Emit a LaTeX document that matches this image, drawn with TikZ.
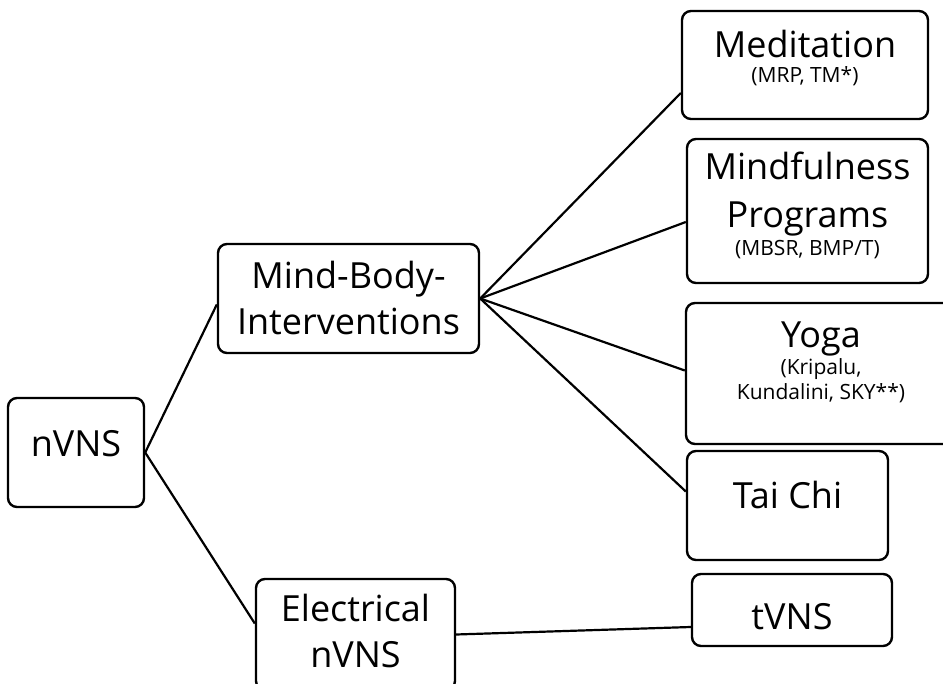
\documentclass[tikz,border=0pt]{standalone}
\usepackage{fontspec}
\setmainfont{Open Sans}
\definecolor{TreeInk}{HTML}{000000}
\tikzset{
  tree/box/.style={
    draw=TreeInk, line width=2.4pt, rounded corners=9pt, fill=white,
    inner sep=0pt, align=center, font=\fontsize{36}{46}\selectfont
  },
  tree/link/.style={line width=2.2pt, draw=TreeInk}
}
\newcommand\subnote[1]{{\fontsize{21}{25}\selectfont #1}}

\begin{document}
\begin{tikzpicture}[x=1pt,y=-1pt]
  \useasboundingbox (0,0) rectangle (943,684);
  \node[tree/box,minimum width=136pt,minimum height=109pt,text depth=18pt]
    (root) at (76,452.5) {nVNS};
  \node[tree/box,minimum width=261pt,minimum height=109pt]
    (mbi) at (348.5,298.5) {Mind-Body-\\Interventions};
  \node[tree/box,minimum width=199pt,minimum height=111pt,text depth=8pt]
    (elec) at (355.5,634.5) {Electrical\\nVNS};
  \node[tree/box,minimum width=246pt,minimum height=108pt,text depth=18pt]
    (med) at (805,65) {Meditation\\[-21pt]\subnote{(MRP, TM*)}};
  \node[tree/box,minimum width=241pt,minimum height=144pt,text depth=14pt]
    (mind) at (807.5,211) {Mindfulness\\[2pt]Programs\\[-18pt]\subnote{(MBSR, BMP/T)}};
  \node[tree/box,minimum width=270pt,minimum height=141pt,text depth=25pt]
    (yoga) at (821,373.5)
    {Yoga\\[-19pt]\subnote{(Kripalu,}\\[-21pt]\subnote{Kundalini, SKY**)}};
  \node[tree/box,minimum width=201pt,minimum height=109pt,text depth=22pt]
    (tai) at (787.5,505.5) {Tai Chi};
  \node[tree/box,minimum width=200pt,minimum height=72pt,text height=40pt]
    (tvns) at (792,610) {tVNS};
  \draw[tree/link] (root.east) -- ([yshift=-6pt]mbi.west);
  \draw[tree/link] (root.east) -- ([yshift=11pt]elec.west);
  \draw[tree/link] (mbi.east) -- ([yshift=-28pt]med.west);
  \draw[tree/link] (mbi.east) -- ([yshift=-11pt]mind.west);
  \draw[tree/link] (mbi.east) -- ([yshift=3pt]yoga.west);
  \draw[tree/link] (mbi.east) -- ([yshift=14pt]tai.west);
  \draw[tree/link] (elec.east) -- ([yshift=-17pt]tvns.west);
\end{tikzpicture}
\end{document}
